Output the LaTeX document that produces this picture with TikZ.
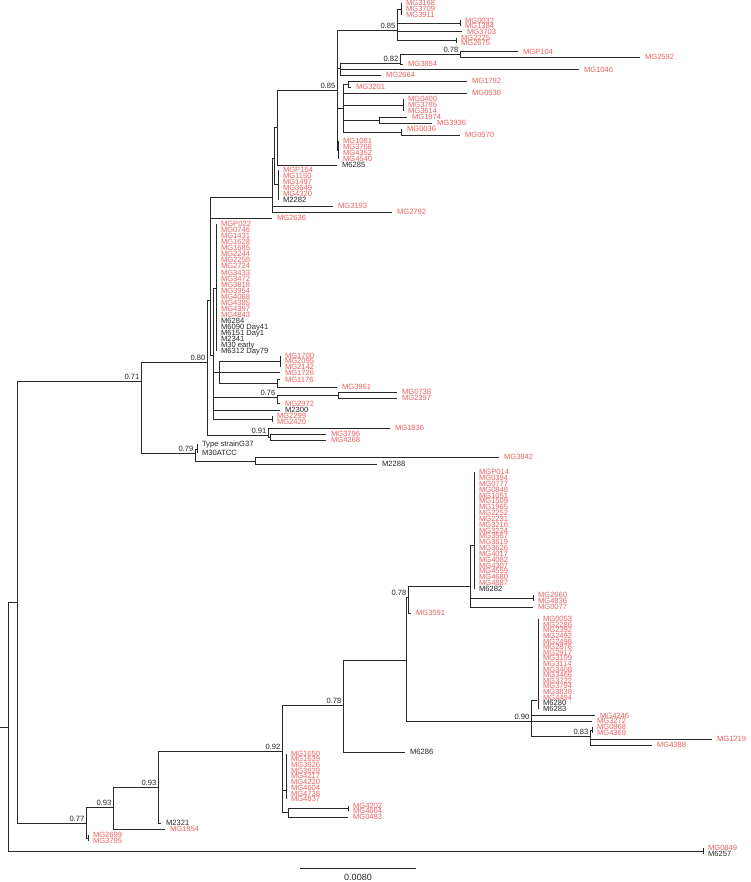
\documentclass[tikz,border=0pt]{standalone}
\usepackage{fontspec}
\setmainfont{Liberation Sans}
\usetikzlibrary{calc}
\definecolor{RojoAislado}{RGB}{233,96,96}
\definecolor{GrisRama}{RGB}{40,40,40}
\tikzset{
  rama/.style={draw=GrisRama,line width=0.85pt},
  hoja/.style={anchor=west,inner xsep=5pt,inner ysep=0pt,outer sep=0pt,
    text height=5.3pt,text depth=0pt,font=\fontsize{7.6}{7.6}\selectfont},
  hojaroja/.style={hoja,text=RojoAislado},
  hojanegra/.style={hoja,text=black!85},
  soporte/.style={anchor=south east,inner sep=1.5pt,text=black!85,
    font=\fontsize{7.6}{7.6}\selectfont}
}

\begin{document}
\begin{tikzpicture}[x=1pt,y=-1pt]
  \useasboundingbox (0,0) rectangle (750,882);
  % nodos internos
  \coordinate (tallo) at (0,727);
  \coordinate (raiz) at (8,727);
  \coordinate (nq) at (17,602);
  \coordinate (n071) at (141,381);
  \coordinate (n080) at (207,362);
  \coordinate (na) at (210,300);
  \coordinate (n272) at (272,197);
  \coordinate (nmid) at (274,158);
  \coordinate (ntop) at (277,127);
  \coordinate (n085b) at (337,90);
  \coordinate (n085a) at (397,30);
  \coordinate (g3168) at (401,9);
  \coordinate (g0032) at (460,23.5);
  \coordinate (g2225) at (456,40.5);
  \coordinate (nap) at (340,68);
  \coordinate (n082) at (400,63);
  \coordinate (n078t) at (460,54);
  \coordinate (ne) at (343,108);
  \coordinate (nb) at (348,84);
  \coordinate (g0400) at (403,105);
  \coordinate (nc) at (379,120);
  \coordinate (nd) at (401,132);
  \coordinate (g1081) at (338,150);
  \coordinate (g154) at (278,184);
  \coordinate (comb213) at (213,355);
  \coordinate (g216) at (216,288);
  \coordinate (nf) at (219,372);
  \coordinate (g1700) at (280,361);
  \coordinate (ng) at (277,383);
  \coordinate (n076) at (277,397);
  \coordinate (nh) at (338,395);
  \coordinate (g2299) at (272,419);
  \coordinate (n091) at (268,435);
  \coordinate (n3796) at (270,437);
  \coordinate (n079) at (195,453);
  \coordinate (nts) at (197,449);
  \coordinate (n255) at (255,461);
  \coordinate (n078b) at (343,705);
  \coordinate (np) at (406,660);
  \coordinate (n078a) at (408,597);
  \coordinate (nc1) at (470,586);
  \coordinate (g474) at (474,545);
  \coordinate (g2660) at (533,598);
  \coordinate (n090) at (531,721);
  \coordinate (g537) at (537,700);
  \coordinate (g0868) at (592,730);
  \coordinate (n083) at (590,736);
  \coordinate (n092) at (282,751);
  \coordinate (g286) at (286,790);
  \coordinate (n4202) at (288,812);
  \coordinate (g4202) at (348,808);
  \coordinate (n093u) at (158,787);
  \coordinate (n093l) at (113,807);
  \coordinate (n077) at (86,823);
  \coordinate (g2699) at (88,838);
  \coordinate (g0849) at (703,851);

  % hojas, parte superior
  \node[hojaroja] (mg3168) at (401,3) {MG3168};
  \node[hojaroja] (mg3709) at (401,9) {MG3709};
  \node[hojaroja] (mg3911) at (401,15) {MG3911};
  \node[hojaroja] (mg0032) at (460,20.5) {MG0032};
  \node[hojaroja] (mg1384) at (460,26.2) {MG1384};
  \node[hojaroja] (mg3703) at (462,31.9) {MG3703};
  \node[hojaroja] (mg2225) at (456,37.6) {MG2225};
  \node[hojaroja] (mg2675) at (456,43.3) {MG2675};
  \node[hojaroja] (mgp104) at (518,51.5) {MGP104};
  \node[hojaroja] (mg2592) at (640,57) {MG2592};
  \node[hojaroja] (mg3854) at (403,64) {MG3854};
  \node[hojaroja] (mg1046) at (579,69.6) {MG1046};
  \node[hojaroja] (mg2664) at (381,75.3) {MG2664};
  \node[hojaroja] (mg1792) at (467,81) {MG1792};
  \node[hojaroja] (mg3201) at (351,87) {MG3201};
  \node[hojaroja] (mg0538) at (467,93) {MG0538};
  \node[hojaroja] (mg0400) at (403,99) {MG0400};
  \node[hojaroja] (mg3785) at (403,105) {MG3785};
  \node[hojaroja] (mg3614) at (403,111) {MG3614};
  \node[hojaroja] (mg1974) at (407,117) {MG1974};
  \node[hojaroja] (mg3936) at (432,123) {MG3936};
  \node[hojaroja] (mg0036) at (402,129) {MG0036};
  \node[hojaroja] (mg0570) at (460,135) {MG0570};
  \node[hojaroja] (mg1081) at (338,141) {MG1081};
  \node[hojaroja] (mg3768) at (338,147) {MG3768};
  \node[hojaroja] (mg4352) at (338,153) {MG4352};
  \node[hojaroja] (mg4540) at (338,159) {MG4540};
  \node[hojanegra] (m6285) at (337,165) {M6285};
  \node[hojaroja] (mgp154) at (278,170) {MGP154};
  \node[hojaroja] (mg1150) at (278,176) {MG1150};
  \node[hojaroja] (mg1497) at (278,182) {MG1497};
  \node[hojaroja] (mg3649) at (278,188) {MG3649};
  \node[hojaroja] (mg4320) at (278,194) {MG4320};
  \node[hojanegra] (m2282) at (278,200) {M2282};
  \node[hojaroja] (mg3193) at (333,206) {MG3193};
  \node[hojaroja] (mg2792) at (392,212) {MG2792};
  \node[hojaroja] (mg2636) at (272,218) {MG2636};
  \foreach \t [count=\i] in {MGP022,MG0746,MG1431,MG1628,MG1685,MG2244,MG2258,MG2724,
      MG3433,MG3472,MG3818,MG3954,MG4068,MG4385,MG4397,MG4843}
    {\node[hojaroja] (p\i) at (216,{224+6.05*(\i-1)}) {\t};}
  \foreach \t [count=\i] in {M6284,M6090 Day41,M6151 Day1,M2341,M30 early,M6312 Day79}
    {\node[hojanegra] (q\i) at (216,{224+6.05*(\i+15)}) {\t};}
  \node[hojaroja] (mg1700) at (280,355.5) {MG1700};
  \node[hojaroja] (mg2095) at (280,361.2) {MG2095};
  \node[hojaroja] (mg2142) at (280,366.9) {MG2142};
  \node[hojaroja] (mg1726) at (280,372.8) {MG1726};
  \node[hojaroja] (mg1176) at (280,379.5) {MG1176};
  \node[hojaroja] (mg3961) at (337,387) {MG3961};
  \node[hojaroja] (mg0738) at (397,392) {MG0738};
  \node[hojaroja] (mg2397) at (397,398) {MG2397};
  \node[hojaroja] (mg2972) at (280,403.5) {MG2972};
  \node[hojanegra] (m2300) at (280,410) {M2300};
  \node[hojaroja] (mg2299) at (272,416) {MG2299};
  \node[hojaroja] (mg2420) at (272,422) {MG2420};
  \node[hojaroja] (mg1836) at (390,428) {MG1836};
  \node[hojaroja] (mg3796) at (326,434) {MG3796};
  \node[hojaroja] (mg4268) at (326,440) {MG4268};
  \node[hojanegra] (mtipo) at (197,444) {Type strainG37};
  \node[hojanegra] (m30atcc) at (197,453) {M30ATCC};
  \node[hojaroja] (mg3842) at (499,457) {MG3842};
  \node[hojanegra] (m2288) at (377,464) {M2288};

  % hojas, parte inferior
  \foreach \t [count=\i] in {MGP014,MG0394,MG0777,MG0848,MG1051,MG1509,MG1965,MG2252,
      MG2231,MG3216,MG3224,MG3567,MG3619,MG3626,MG4017,MG4082,MG4307,MG4559,MG4680,MG4887}
    {\node[hojaroja] (r\i) at (474,{472+5.84*(\i-1)}) {\t};}
  \node[hojanegra] (m6282) at (474,589) {M6282};
  \node[hojaroja] (mg2660) at (533,595) {MG2660};
  \node[hojaroja] (mg4836) at (533,601) {MG4836};
  \node[hojaroja] (mg0077) at (533,607) {MG0077};
  \node[hojaroja] (mg3591) at (411,613) {MG3591};
  \foreach \t [count=\i] in {MG0053,MG2286,MG2392,MG2492,MG2498,MG2876,MG2917,MG3109,
      MG3114,MG3408,MG3466,MG3722,MG3794,MG3838,MG4494}
    {\node[hojaroja] (s\i) at (538,{619+5.6*(\i-1)}) {\t};}
  \node[hojanegra] (m6280) at (538,703) {M6280};
  \node[hojanegra] (m6283) at (538,709) {M6283};
  \node[hojaroja] (mg4246) at (595,715.5) {MG4246};
  \node[hojaroja] (mg3272) at (592,721) {MG3272};
  \node[hojaroja] (mg0868) at (592,727) {MG0868};
  \node[hojaroja] (mg4369) at (592,733) {MG4369};
  \node[hojaroja] (mg1219) at (712,739) {MG1219};
  \node[hojaroja] (mg4388) at (652,745) {MG4388};
  \node[hojanegra] (m6286) at (405,752) {M6286};
  \foreach \t [count=\i] in {MG1650,MG1639,MG3626,MG3629,MG4217,MG4220,MG4604,MG4738,MG4837}
    {\node[hojaroja] (t\i) at (286,{753.5+5.7*(\i-1)}) {\t};}
  \node[hojaroja] (mg4202) at (348,805.5) {MG4202};
  \node[hojaroja] (mg4664) at (348,811.2) {MG4664};
  \node[hojaroja] (mg0483) at (348,817) {MG0483};
  \node[hojanegra] (m2321) at (161,823) {M2321};
  \node[hojaroja] (mg1854) at (165,829) {MG1854};
  \node[hojaroja] (mg2699) at (88,834.5) {MG2699};
  \node[hojaroja] (mg3795) at (88,841) {MG3795};
  \node[hojaroja] (mg0849) at (703,847.5) {MG0849};
  \node[hojanegra] (m6257) at (703,853.5) {M6257};

  % ramas
  \draw[rama] (tallo) -- (raiz);
  \draw[rama] (raiz) |- (nq);
  \draw[rama] (raiz) |- (g0849);
  \draw[rama] (mg0849.west) -- (m6257.west);
  \draw[rama] (nq) |- (n071);
  \draw[rama] (nq) |- (n077);
  \draw[rama] (n071) |- (n080);
  \draw[rama] (n071) |- (n079);
  \draw[rama] (n080) |- (na);
  \draw[rama] (n080) |- (n091);
  \draw[rama] (na) |- (n272);
  \draw[rama] (na) |- (mg2636.west);
  \draw[rama] (na) |- (comb213);
  \draw[rama] (n272) |- (nmid);
  \draw[rama] (n272) |- (mg3193.west);
  \draw[rama] (n272) |- (mg2792.west);
  \draw[rama] (nmid) |- (ntop);
  \draw[rama] (nmid) |- (g154);
  \draw[rama] (mgp154.west) -- (m2282.west);
  \draw[rama] (ntop) |- (n085b);
  \draw[rama] (ntop) |- (m6285.west);
  \draw[rama] (n085b) |- (n085a);
  \draw[rama] (n085b) |- (nap);
  \draw[rama] (n085b) |- (ne);
  \draw[rama] (n085b) |- (g1081);
  \draw[rama] (mg1081.west) -- (mg4540.west);
  \draw[rama] (n085a) |- (g3168);
  \draw[rama] (mg3168.west) -- (mg3911.west);
  \draw[rama] (n085a) |- (g0032);
  \draw[rama] (mg0032.west) -- (mg1384.west);
  \draw[rama] (n085a) |- (mg3703.west);
  \draw[rama] (n085a) |- (g2225);
  \draw[rama] (mg2225.west) -- (mg2675.west);
  \draw[rama] (nap) |- (n082);
  \draw[rama] (nap) |- (mg1046.west);
  \draw[rama] (nap) |- (mg2664.west);
  \draw[rama] (n082) |- (n078t);
  \draw[rama] (n082) |- (mg3854.west);
  \draw[rama] (n078t) |- (mgp104.west);
  \draw[rama] (n078t) |- (mg2592.west);
  \draw[rama] (ne) |- (nb);
  \draw[rama] (ne) |- (mg0538.west);
  \draw[rama] (ne) |- (g0400);
  \draw[rama] (mg0400.west) -- (mg3614.west);
  \draw[rama] (ne) |- (nc);
  \draw[rama] (ne) |- (nd);
  \draw[rama] (nb) |- (mg1792.west);
  \draw[rama] (nb) |- (mg3201.west);
  \draw[rama] (nc) |- (mg1974.west);
  \draw[rama] (nc) |- (mg3936.west);
  \draw[rama] (nd) |- (mg0036.west);
  \draw[rama] (nd) |- (mg0570.west);
  \draw[rama] (comb213) |- (g216);
  \draw[rama] (p1.west) -- (q6.west);
  \draw[rama] (comb213) |- (nf);
  \draw[rama] (comb213) |- (n076);
  \draw[rama] (comb213) |- (m2300.west);
  \draw[rama] (comb213) |- (g2299);
  \draw[rama] (mg2299.west) -- (mg2420.west);
  \draw[rama] (nf) |- (g1700);
  \draw[rama] (mg1700.west) -- (mg2142.west);
  \draw[rama] (nf) |- (mg1726.west);
  \draw[rama] (nf) |- (ng);
  \draw[rama] (ng) |- (mg1176.west);
  \draw[rama] (ng) |- (mg3961.west);
  \draw[rama] (n076) |- (nh);
  \draw[rama] (n076) |- (mg2972.west);
  \draw[rama] (nh) |- (mg0738.west);
  \draw[rama] (nh) |- (mg2397.west);
  \draw[rama] (n091) |- (mg1836.west);
  \draw[rama] (n091) |- (n3796);
  \draw[rama] (n3796) |- (mg3796.west);
  \draw[rama] (n3796) |- (mg4268.west);
  \draw[rama] (n079) |- (nts);
  \draw[rama] (mtipo.west) -- (m30atcc.west);
  \draw[rama] (n079) |- (n255);
  \draw[rama] (n255) |- (mg3842.west);
  \draw[rama] (n255) |- (m2288.west);
  \draw[rama] (n077) |- (n093l);
  \draw[rama] (n077) |- (g2699);
  \draw[rama] (mg2699.west) -- (mg3795.west);
  \draw[rama] (n093l) |- (n093u);
  \draw[rama] (n093l) |- (mg1854.west);
  \draw[rama] (n093u) |- (n092);
  \draw[rama] (n093u) |- (m2321.west);
  \draw[rama] (n092) |- (n078b);
  \draw[rama] (n092) |- (g286);
  \draw[rama] (t1.west) -- (t9.west);
  \draw[rama] (n092) |- (n4202);
  \draw[rama] (n4202) |- (g4202);
  \draw[rama] (mg4202.west) -- (mg4664.west);
  \draw[rama] (n4202) |- (mg0483.west);
  \draw[rama] (n078b) |- (np);
  \draw[rama] (n078b) |- (m6286.west);
  \draw[rama] (np) |- (n078a);
  \draw[rama] (np) |- (n090);
  \draw[rama] (n078a) |- (nc1);
  \draw[rama] (n078a) |- (mg3591.west);
  \draw[rama] (nc1) |- (g474);
  \draw[rama] (r1.west) -- (m6282.west);
  \draw[rama] (nc1) |- (g2660);
  \draw[rama] (mg2660.west) -- (mg4836.west);
  \draw[rama] (nc1) |- (mg0077.west);
  \draw[rama] (n090) |- (g537);
  \draw[rama] (s1.west) -- (m6283.west);
  \draw[rama] (n090) |- (mg4246.west);
  \draw[rama] (n090) |- (mg3272.west);
  \draw[rama] (n090) |- (n083);
  \draw[rama] (n083) |- (g0868);
  \draw[rama] (mg0868.west) -- (mg4369.west);
  \draw[rama] (n083) |- (mg1219.west);
  \draw[rama] (n083) |- (mg4388.west);

  % valores de soporte
  \node[soporte] (b085a) at (n085a) {0.85};
  \node[soporte] (b085b) at (n085b) {0.85};
  \node[soporte] (b082) at (n082) {0.82};
  \node[soporte] (b078t) at (n078t) {0.78};
  \node[soporte] (b080) at (n080) {0.80};
  \node[soporte] (b071) at (n071) {0.71};
  \node[soporte] (b076) at (n076) {0.76};
  \node[soporte] (b091) at (n091) {0.91};
  \node[soporte] (b079) at (n079) {0.79};
  \node[soporte] (b078a) at (n078a) {0.78};
  \node[soporte] (b090) at (n090) {0.90};
  \node[soporte] (b083) at (n083) {0.83};
  \node[soporte] (b078b) at (n078b) {0.78};
  \node[soporte] (b092) at (n092) {0.92};
  \node[soporte] (b093u) at (n093u) {0.93};
  \node[soporte] (b093l) at (n093l) {0.93};
  \node[soporte] (b077) at (n077) {0.77};

  % escala
  \coordinate (esc1) at (300,868);
  \coordinate (esc2) at (416,868);
  \draw[rama] (esc1) -- (esc2);
  \node[text=black!85,inner sep=0pt,font=\fontsize{9}{9}\selectfont] (escala) at (358,877) {0.0080};
\end{tikzpicture}
\end{document}
